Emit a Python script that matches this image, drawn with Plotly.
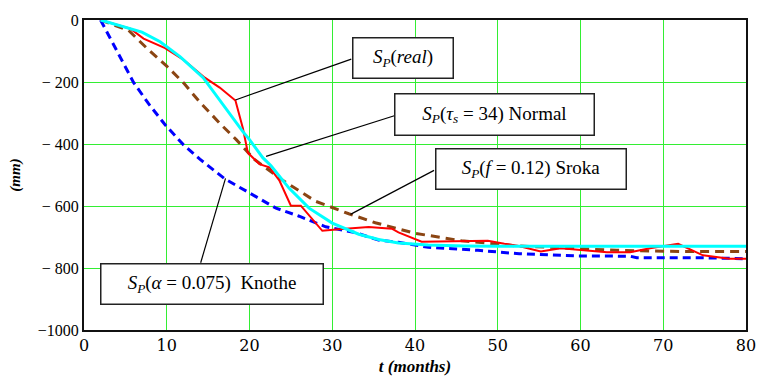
import plotly.graph_objects as go

# Measured data (t in months, subsidence in mm)
t_real = [2, 5.6, 7.2, 9.8, 12, 14.6, 16.4, 18.3, 19.2, 19.8, 21.2, 22.4, 23.6, 25, 26.2, 27.6, 28.8,
          30.8, 34.4, 37.2, 38, 40.8, 48.8, 50.8, 52.4, 55.2, 57.6, 60.4, 63.2, 66, 68.4, 71.8, 74.8, 78, 80]
s_real = [0, -28, -60, -91, -128, -186, -218, -260, -349, -428, -465, -475, -517, -599, -599, -643, -680,
          -675, -668, -673, -685, -715, -712, -722, -728, -747, -736, -743, -749, -749, -736, -722, -759, -770, -770]

t_normal = [2, 7, 9.2, 11.6, 14.4, 16.8, 19.2, 20, 21.6, 22.6, 24.8, 27.2, 30, 33.2, 35.6, 38, 41.6, 46, 50, 60, 70, 80]
s_normal = [0, -39, -70, -118, -186, -275, -360, -386, -444, -470, -543, -607, -655, -691, -708, -719, -726, -729, -730, -730, -730, -730]

t_sroka = [2, 5.4, 7.6, 10, 12, 14, 16.4, 18.4, 20.6, 24, 28, 32, 35.2, 40, 45.6, 52, 58.4, 64.4, 72.4, 80]
s_sroka = [0, -34, -91, -149, -202, -265, -333, -386, -450, -517, -585, -625, -654, -688, -712, -728, -736, -743, -747, -747]

t_knothe = [2, 3.2, 4.6, 6, 7.8, 9.8, 12, 14, 17, 20, 23.2, 26, 29.2, 32.8, 35.6, 38, 41.6, 47.6, 52.6, 59.6, 66, 66.8, 74.8, 80]
s_knothe = [0, -60, -128, -202, -270, -338, -402, -449, -512, -559, -607, -633, -667, -686, -710, -717, -733, -743, -754, -761, -762, -767, -767, -770]

x_ticks = [0, 10, 20, 30, 40, 50, 60, 70, 80]
y_ticks = [0, -200, -400, -600, -800, -1000]
y_ticktext = ["0", "\u2212 200", "\u2212 400", "\u2212 600", "\u2212 800", "\u22121000"]

FONT = "Times New Roman"

fig = go.Figure()
fig.add_trace(go.Scatter(x=t_sroka, y=s_sroka, mode="lines",
                         line=dict(color="#8B4513", width=3, dash="9px,6px")))
fig.add_trace(go.Scatter(x=t_knothe, y=s_knothe, mode="lines",
                         line=dict(color="#0000FF", width=3, dash="8px,5px")))
fig.add_trace(go.Scatter(x=t_real, y=s_real, mode="lines",
                         line=dict(color="#FF0000", width=2)))
fig.add_trace(go.Scatter(x=t_normal, y=s_normal, mode="lines",
                         line=dict(color="#00FFFF", width=3)))

callouts = [
    ("<i>S</i><sub><i>P</i></sub>(<i>real</i>)", 38.5, -123, 103, 43, 32.3, -126, 18.3, -258),
    ("<i>S</i><sub><i>P</i></sub>(<i>\u03c4</i><sub><i>s</i></sub> = 34) Normal", 49.6, -306, 202, 44, 37.5, -309, 22.0, -440),
    ("<i>S</i><sub><i>P</i></sub>(<i>f</i> = 0.12) Sroka", 54, -482, 193, 43, 42.3, -485, 32.2, -627),
    ("<i>S</i><sub><i>P</i></sub>(<i>\u03b1</i> = 0.075)  Knothe", 15.5, -852, 225, 43, 14.1, -783, 17.1, -511),
]
for text, cx, cy, w, h, x0, y0, x1, y1 in callouts:
    fig.add_shape(type="line", x0=x0, y0=y0, x1=x1, y1=y1, xref="x", yref="y",
                  line=dict(color="black", width=1.2))
    fig.add_annotation(x=cx, y=cy, xref="x", yref="y", text=text, showarrow=False,
                       width=w - 4, height=h - 4, bgcolor="white", bordercolor="#222",
                       borderwidth=1.5, borderpad=0, align="center", valign="middle",
                       font=dict(family=FONT, size=19, color="black"))

fig.update_layout(
    width=768, height=385,
    margin=dict(l=84, r=18, t=16, b=52),
    paper_bgcolor="white", plot_bgcolor="white",
    showlegend=False,
    font=dict(family=FONT, size=16, color="black"),
)
fig.update_xaxes(range=[0, 80], tickvals=x_ticks, showgrid=True, gridcolor="#33EE33", gridwidth=1,
                 zeroline=False, showline=True, linecolor="#111", linewidth=2, mirror=True,
                 ticks="", tickfont=dict(family="DejaVu Serif", size=16),
                 title=dict(text="<b><i>t (months)</i></b>", font=dict(family=FONT, size=17), standoff=6))
fig.update_yaxes(range=[-1000, 0], tickvals=y_ticks, ticktext=y_ticktext, showgrid=True,
                 gridcolor="#33EE33", gridwidth=1, zeroline=False, showline=True, linecolor="#111",
                 linewidth=2, mirror=True, ticks="", tickfont=dict(family="serif", size=16),
                 title=dict(text="<b><i>(mm)</i></b>", font=dict(family=FONT, size=15), standoff=14))

fig.write_html("out.html")
